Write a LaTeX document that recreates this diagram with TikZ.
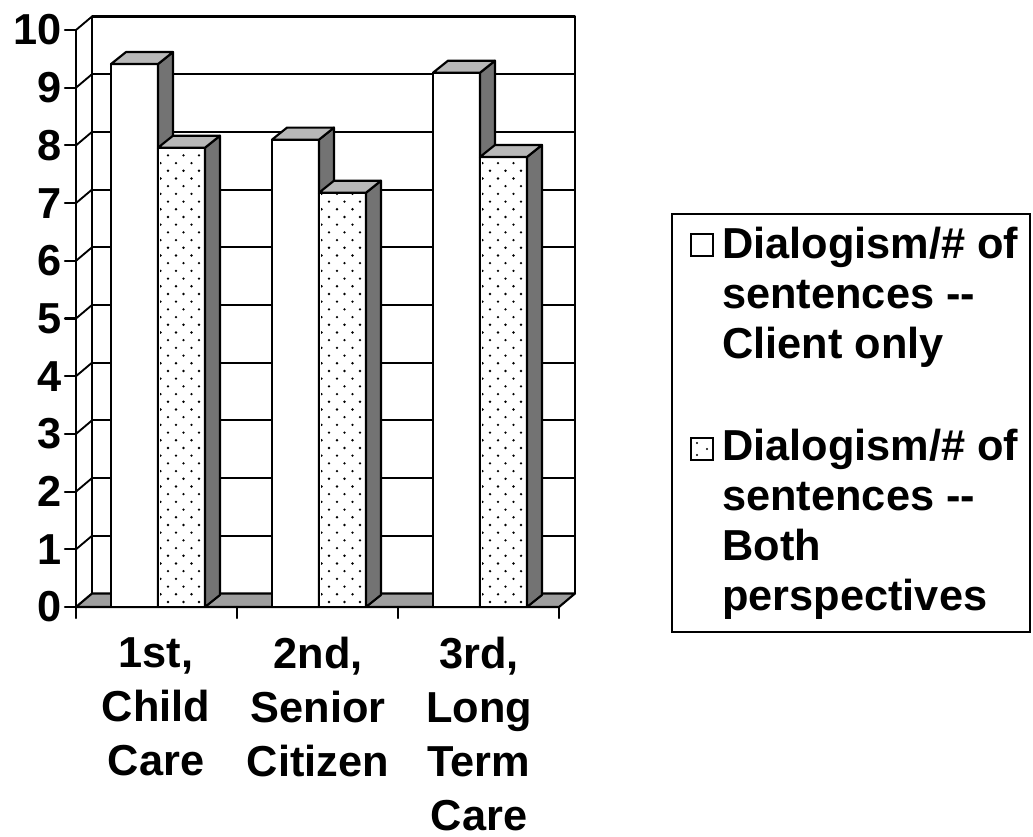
\documentclass[tikz,border=0pt]{standalone}
\usepackage{fontspec}
\setmainfont{Liberation Sans}
\begin{document}
\begin{tikzpicture}[x=0.75pt,y=-0.75pt,
  ln/.style={line width=1.6pt, line join=round, line cap=round},
  gridln/.style={line width=1.4pt},
  frontface/.style={fill=white, draw=black, line width=1.6pt, line join=round},
  sideface/.style={fill=black!55, draw=black, line width=1.6pt, line join=round},
  topface/.style={fill=black!28, draw=black, line width=1.6pt, line join=round},
  floorface/.style={fill=black!38, draw=black, line width=1.6pt, line join=round},
  ylab/.style={anchor=east, inner sep=0pt, font=\fontsize{32.5}{39}\selectfont\bfseries},
  catlab/.style={anchor=north, inner sep=0pt, align=center, font=\fontsize{32.5}{40.5}\selectfont\bfseries},
  legtext/.style={anchor=north west, inner sep=0pt, align=left, font=\fontsize{32.5}{37.5}\selectfont\bfseries},
  legbox/.style={draw=black, line width=1.5pt},
  legkey/.style={draw=black, fill=white, line width=1.3pt},
]
\useasboundingbox (0,0) rectangle (1033,837);

% ---------- back wall and gridlines ----------
\foreach \v in {1,...,9}
  \draw[gridln] (92,{593.5-57.7*\v}) -- (575,{593.5-57.7*\v});
\draw[ln] (92,593.5) -- (92,16.5) -- (575,16.5) -- (575,593.5);

% ---------- left wall ----------
\foreach \v in {1,...,10}
  \draw[gridln] (76,{607-57.7*\v}) -- (92,{593.5-57.7*\v});

% ---------- floor ----------
\draw[floorface] (76,607) -- (92,593.5) -- (575,593.5) -- (559,607) -- cycle;

% ---------- bars ----------
\newcommand\mybar[3]{%
  \pgfmathsetmacro\xl{#1}%
  \pgfmathsetmacro\xr{#1+47}%
  \pgfmathsetmacro\xb{#1+62}%
  \pgfmathsetmacro\xbl{#1+15}%
  \pgfmathsetmacro\yt{607-57.7*#2}%
  \pgfmathsetmacro\ytb{\yt-12}%
  \fill[white] (\xl,607) rectangle (\xr,\yt);
  \ifnum#3=1
    \begin{scope}
      \clip (\xl+2,605) rectangle (\xr-2,\yt+2);
      \foreach \j in {0,...,62}{
        \pgfmathsetmacro\yy{602-7.7*\j}
        \pgfmathsetmacro\xo{mod(\j,2)*7.5}
        \foreach \k in {0,1,2,3}
          \fill[black] ({\xl+10-\xo+15.5*\k},\yy) circle[radius=1.3];
      }
    \end{scope}
  \fi
  \draw[ln] (\xl,607) rectangle (\xr,\yt);
  \draw[sideface] (\xr,607) -- (\xb,595) -- (\xb,\ytb) -- (\xr,\yt) -- cycle;
  \draw[topface] (\xl,\yt) -- (\xbl,\ytb) -- (\xb,\ytb) -- (\xr,\yt) -- cycle;
}
\mybar{111}{9.41}{0}
\mybar{158}{7.96}{1}
\mybar{272}{8.10}{0}
\mybar{319}{7.18}{1}
\mybar{433}{9.26}{0}
\mybar{480}{7.80}{1}

% ---------- front axes ----------
\draw[ln] (76,30) -- (76,618);
\draw[ln] (76,607) -- (559,607);
\foreach \x in {237,398,559}
  \draw[ln] (\x,607) -- (\x,618);
\foreach \v in {0,...,10}{
  \draw[ln] (65,{607-57.7*\v}) -- (76,{607-57.7*\v});
  \node[ylab] (y\v) at (62,{607-57.7*\v}) {\v};
}

% ---------- category labels ----------
\node[catlab] (c1) at (156,637) {1st,\\Child\\Care};
\node[catlab] (c2) at (318,637) {2nd,\\Senior\\Citizen};
\node[catlab] (c3) at (479,637) {3rd,\\Long\\Term\\Care};

% ---------- legend ----------
\draw[legbox] (672,214) rectangle (1030,632);
\draw[legkey] (691,234) rectangle (713,256);
\draw[legkey] (691,438) rectangle (713,460);
\fill[black] (697,443) circle[radius=1.2] (707,449) circle[radius=1.2] (697,455) circle[radius=1.2];
\node[legtext] (l1) at (722,227) {Dialogism/\# of\\sentences -{}-\\Client only};
\node[legtext] (l2) at (722,429) {Dialogism/\# of\\sentences -{}-\\Both\\perspectives};
\end{tikzpicture}
\end{document}
